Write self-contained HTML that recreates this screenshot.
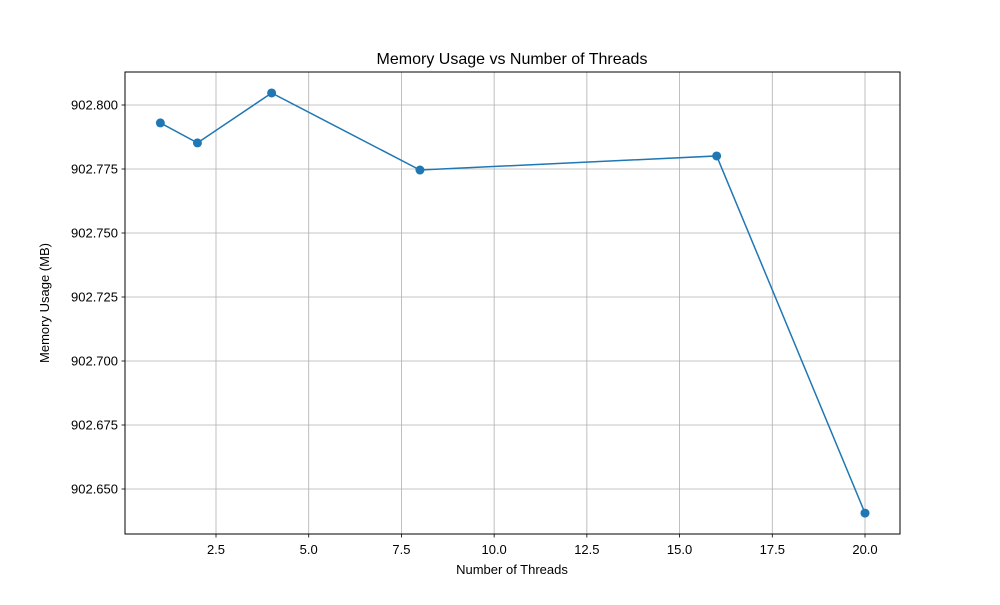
<!DOCTYPE html>
<html><head><meta charset="utf-8"><style>
body{margin:0;background:#fff;}
svg text{font-family:"Liberation Sans","DejaVu Sans",sans-serif;}
</style></head><body>
<svg id="c" width="1000" height="600" xmlns="http://www.w3.org/2000/svg">
<rect width="1000" height="600" fill="#fff"/>
<text x="512" y="64" text-anchor="middle" font-size="16">Memory Usage vs Number of Threads</text>
<text x="512" y="574" text-anchor="middle" font-size="13">Number of Threads</text>
<text transform="translate(49,303) rotate(-90)" text-anchor="middle" font-size="13">Memory Usage (MB)</text>
<g id="grid"></g><g id="ticks"></g><g id="series"></g>
<rect x="125" y="72" width="775" height="462" fill="none" stroke="#000" stroke-width="1"/>
</svg>
<script>
const threads=[1,2,4,8,16,20];
const memory=[902.7930,902.7852,902.8047,902.7746,902.7801,902.6406];
const xTicks=[2.5,5,7.5,10,12.5,15,17.5,20];
const xTickLabels=["2.5","5.0","7.5","10.0","12.5","15.0","17.5","20.0"];
const yTicks=[902.650,902.675,902.700,902.725,902.750,902.775,902.800];
const yTickLabels=["902.650","902.675","902.700","902.725","902.750","902.775","902.800"];
const NS="http://www.w3.org/2000/svg";
function X(v){return 216+(v-2.5)*(865-216)/17.5;}
function Y(v){return 105+(902.8-v)*64/0.025;}
function mk(t,a,p){const e=document.createElementNS(NS,t);for(const k in a)e.setAttribute(k,a[k]);p.appendChild(e);return e;}
const grid=document.getElementById('grid'),ticks=document.getElementById('ticks'),ser=document.getElementById('series');
xTicks.forEach((v,i)=>{const x=X(v);
const g=mk('line',{x1:x,x2:x,y1:72,y2:534,stroke:'#b0b0b0','stroke-width':0.8},grid);


mk('line',{x1:x,x2:x,y1:534,y2:537.5,stroke:'#000','stroke-width':0.8},ticks);
const t=mk('text',{x:x,y:554,'text-anchor':'middle','font-size':13},ticks);t.textContent=xTickLabels[i];

});
yTicks.forEach((v,i)=>{const y=Y(v);
const g=mk('line',{x1:125,x2:900,y1:y,y2:y,stroke:'#b0b0b0','stroke-width':0.8},grid);


mk('line',{x1:121.5,x2:125,y1:y,y2:y,stroke:'#000','stroke-width':0.8},ticks);
const t=mk('text',{x:118,y:y+4.5,'text-anchor':'end','font-size':13},ticks);t.textContent=yTickLabels[i];

});
const pts=threads.map((t,i)=>X(t)+','+Y(memory[i])).join(' ');
const pl=mk('polyline',{points:pts,fill:'none',stroke:'#1f77b4','stroke-width':1.5},ser);


threads.forEach((t,i)=>{const c=mk('circle',{cx:X(t),cy:Y(memory[i]),r:4.5,fill:'#1f77b4'},ser);

});
</script>
</body></html>
